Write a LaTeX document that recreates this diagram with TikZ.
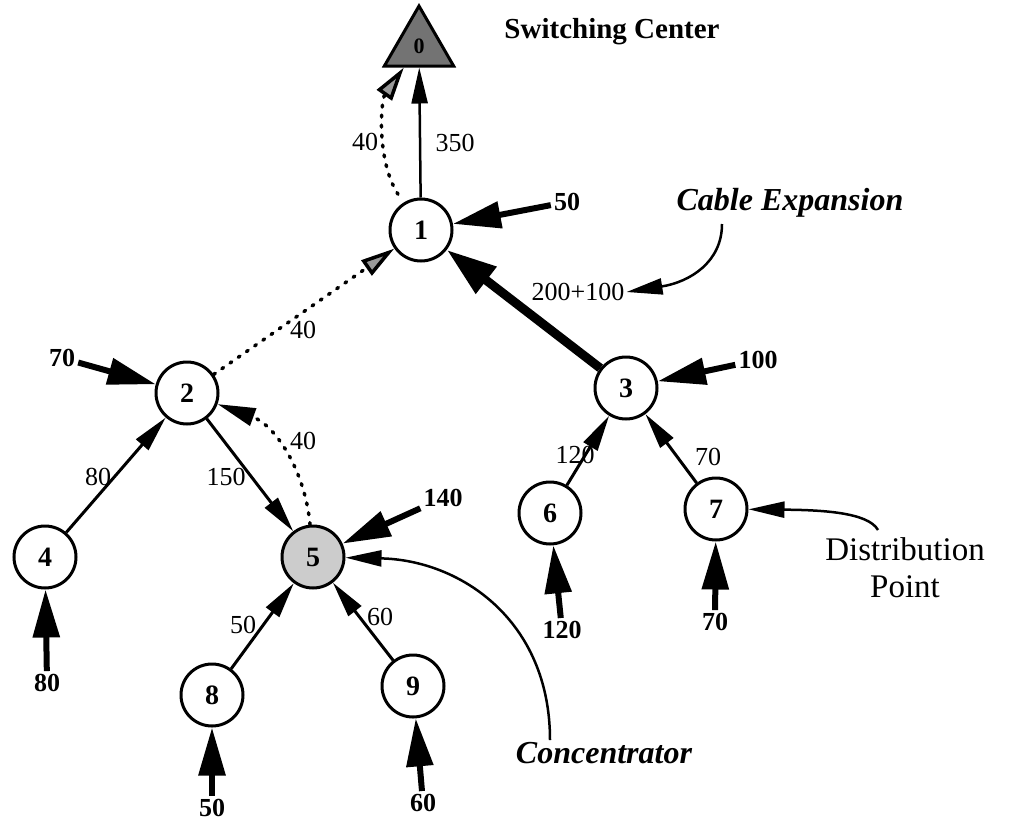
\documentclass[tikz,border=0pt]{standalone}
\usepackage{fontspec}
\setmainfont{Liberation Serif}
\usetikzlibrary{shapes,arrows.meta}
\tikzset{
  main/.style={circle, minimum size=62pt, inner sep=0pt, line width=3pt, draw=black, font=\bfseries\fontsize{28}{28}\selectfont},
  hub/.style={regular polygon, regular polygon sides=3, minimum size=80pt, inner sep=0pt, line width=3pt, draw=black, fill=black!55, font=\bfseries\fontsize{22}{22}\selectfont},
  connect/.style={-{Triangle[length=36pt,width=16pt]}, line width=3pt},
  trunk/.style={-{Triangle[length=50pt,width=32pt]}, line width=9pt},
  feed/.style={-{Triangle[length=48pt,width=26pt]}, line width=6pt},
  spare/.style={dash pattern=on 2pt off 8pt, line cap=round, line width=3.5pt, -{Triangle[length=34pt,width=18pt,fill=black!40]}},
  pointer/.style={-{Triangle[length=36pt,width=16pt]}, line width=2.5pt},
  load/.style={font=\fontsize{26}{26}\selectfont, inner sep=2pt},
  demand/.style={font=\bfseries\fontsize{26}{26}\selectfont, inner sep=3pt},
  remark/.style={font=\bfseries\itshape\fontsize{32}{32}\selectfont}
}
\begin{document}
\begin{tikzpicture}[x=1pt,y=-1pt]
  \useasboundingbox (0,0) rectangle (1009,825);
  \node[hub] (S) at (419,46) {0};
  \node[main] (N1) at (421,230) {1};
  \node[main] (N2) at (187,393) {2};
  \node[main] (N3) at (626,388) {3};
  \node[main] (N4) at (45,557) {4};
  \node[main,fill=black!20] (N5) at (313,557) {5};
  \node[main] (N6) at (550,513) {6};
  \node[main] (N7) at (716,509) {7};
  \node[main] (N8) at (212,695) {8};
  \node[main] (N9) at (413,686) {9};

  \node[font=\bfseries\fontsize{29}{29}\selectfont] (title) at (612,32) {Switching Center};
  \node[remark] (cable) at (790,203) {Cable Expansion};
  \node[remark] (conc) at (604,753) {Concentrator};
  \node[align=center, font=\fontsize{33}{37}\selectfont] (dist) at (905,568) {Distribution\\Point};

  \node[demand] (D1) at (567,202) {50};
  \node[demand] (D2) at (62,358) {70};
  \node[demand] (D3) at (758,360) {100};
  \node[demand] (D4) at (47,683) {80};
  \node[demand] (D5) at (443,498) {140};
  \node[demand] (D6) at (562,630) {120};
  \node[demand] (D7) at (715,622) {70};
  \node[demand] (D8) at (212,808) {50};
  \node[demand] (D9) at (423,803) {60};

  \node[load] (L10) at (455,143) {350};
  \node[load] (L10b) at (365,142) {40};
  \node[load] (L31) at (578,292) {200+100};
  \node[load] (L21) at (303,330) {40};
  \node[load] (L42) at (98,477) {80};
  \node[load] (L25) at (226,477) {150};
  \node[load] (L52) at (303,441) {40};
  \node[load] (L85) at (243,625) {50};
  \node[load] (L95) at (380,617) {60};
  \node[load] (L63) at (575,455) {120};
  \node[load] (L73) at (708,457) {70};

  \coordinate (cableS) at (722,224);
  \coordinate (concS) at (550,740);
  \coordinate (distS) at (878,530);

  \path (N1) edge [connect, line width=2.5pt] (S)
        (N4) edge [connect] (N2)
        (N2) edge [connect] (N5)
        (N8) edge [connect] (N5)
        (N9) edge [connect] (N5)
        (N6) edge [connect] (N3)
        (N7) edge [connect] (N3);
  \path (N3) edge [trunk] (N1);
  \path (N2) edge [spare] (N1);
  \draw[spare, shorten <=10pt] (N1) .. controls (376,160) and (381,100) .. (S);
  \draw[spare, -{Triangle[length=38pt,width=18pt]}] (N5) .. controls (305,470) and (275,425) .. (N2);

  \foreach \d/\n in {D1/N1, D2/N2, D3/N3, D4/N4, D5/N5, D6/N6, D7/N7, D8/N8, D9/N9}
    \path (\d) edge [feed] (\n);

  \draw[pointer] (cableS) .. controls (722,262) and (690,282) .. (L31.east);
  \draw[pointer] (concS) .. controls (550,620) and (460,560) .. (N5);
  \draw[pointer] (distS) .. controls (868,512) and (820,510) .. (N7);
\end{tikzpicture}
\end{document}
